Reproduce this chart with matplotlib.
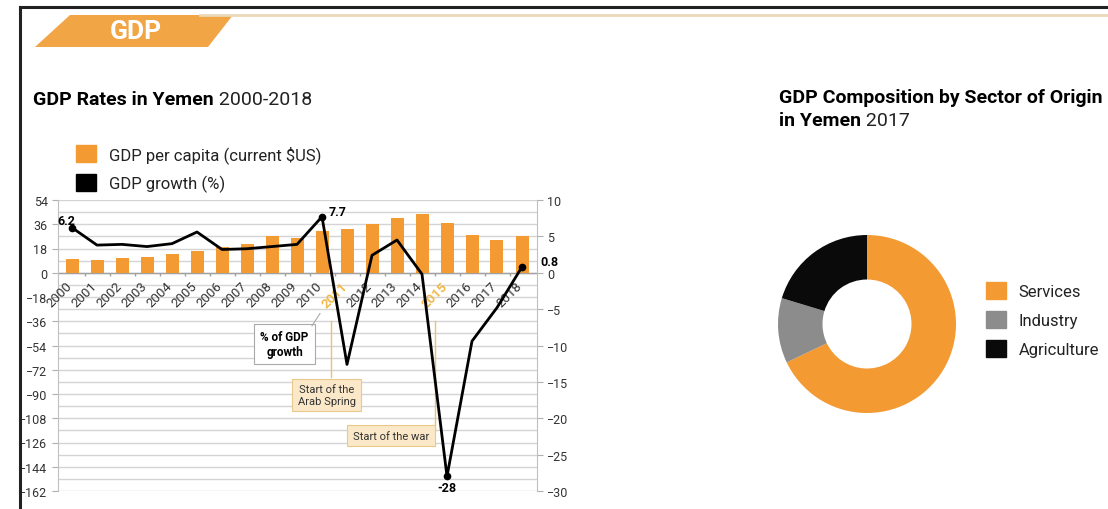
import matplotlib
matplotlib.use('Agg')
import matplotlib.pyplot as plt
from matplotlib.patches import Polygon, Patch
from matplotlib.lines import Line2D
import numpy as np

plt.rcParams['font.family'] = ['Roboto', 'DejaVu Sans']

# GDP per capita (left axis units) and annual GDP growth (%) for Yemen
years = list(range(2000, 2019))
gdp_per_capita = [10, 9.75, 10.75, 11.75, 13.75, 16.5, 18.75, 21.5, 27, 25.75,
                  30.75, 32.75, 36, 40.5, 43.25, 37, 27.75, 24.5, 27.5]
gdp_growth = [6.2, 3.8, 3.9, 3.6, 4.0, 5.6, 3.2, 3.3, 3.6, 3.9,
              7.7, -12.6, 2.4, 4.5, -0.2, -28.0, -9.4, -4.8, 0.8]
labelled_years = [2000, 2010, 2015, 2018]
highlight_years = [2011, 2015]

# GDP composition by sector, 2017 (%)
sectors = ['Services', 'Industry', 'Agriculture']
sector_share = [67.9, 11.8, 20.3]

ORANGE = '#F39A33'
GOLD = '#F2B84B'
W, H = 1108, 510


def fx(x):
    return x / W


def fy(y):
    return 1 - y / H


fig = plt.figure(figsize=(W / 100, H / 100), dpi=100)

# frame and header banner
fig.add_artist(Line2D([fx(20), 1], [fy(8), fy(8)], color='#222222', lw=2.2))
fig.add_artist(Line2D([fx(20), fx(20)], [fy(8), 0], color='#222222', lw=2.2))
fig.add_artist(Line2D([fx(200), 1], [fy(16), fy(16)], color='#E9D9B6', lw=2))
fig.add_artist(Polygon([(fx(35), fy(48)), (fx(70), fy(16)), (fx(233), fy(16)), (fx(208), fy(48))],
                       closed=True, transform=fig.transFigure, facecolor='#F2A544', edgecolor='none'))
fig.text(fx(136), fy(32), 'GDP', color='white', fontsize=19, fontweight='bold',
         ha='center', va='center')

# ---- bar + line chart
ax = fig.add_axes([fx(58), fy(492), fx(537 - 58), (492 - 201) / H])
ax2 = ax.twinx()
x = np.arange(len(years))

ax.set_ylim(-162, 54)
ax.set_yticks(np.arange(-162, 55, 18))
ax.set_yticks(np.arange(-162, 55, 9), minor=True)
ax.grid(True, which='both', axis='y', color='#d4d4d4', lw=1)
ax.set_axisbelow(True)
ax.axhline(0, color='#a0a0a0', lw=1, zorder=1)
ax.bar(x, gdp_per_capita, width=0.52, color=ORANGE, zorder=2)
ax.vlines(x[:-1] + 0.5, -2.2, 0, color='#a0a0a0', lw=1, zorder=1)
ax.set_xlim(-0.56, 18.6)
ax.set_xticks([])
ax.tick_params(axis='y', which='major', labelsize=9, labelcolor='#333333', color='#b0b0b0', length=4)
ax.tick_params(axis='y', which='minor', length=0)
for side in ['top', 'bottom', 'right']:
    ax.spines[side].set_visible(False)
ax.spines['left'].set_color('#c0c0c0')

for i, yr in enumerate(years):
    hl = yr in highlight_years
    ax.text(i - 0.5, -16, str(yr), rotation=45, ha='center', va='center',
            fontsize=9.5, color=GOLD if hl else '#333333',
            fontweight='bold' if hl else 'normal', zorder=3)

ax2.set_ylim(-30, 10)
ax2.set_yticks(np.arange(-30, 11, 5))
ax2.tick_params(axis='y', labelsize=9, labelcolor='#333333', color='#b0b0b0', length=4)
for side in ['top', 'bottom', 'left']:
    ax2.spines[side].set_visible(False)
ax2.spines['right'].set_color('#c0c0c0')
ax2.plot(x, gdp_growth, color='black', lw=2, zorder=4)

offsets = {2000: (-4, 5), 2010: (11, 4), 2015: (0, -8), 2018: (20, 4)}
for yr in labelled_years:
    i = years.index(yr)
    v = gdp_growth[i]
    ax2.plot(x[i], v, 'o', color='black', ms=4.5, zorder=5)
    ax2.annotate('{:g}'.format(v), (x[i], v), xytext=offsets[yr], textcoords='offset points',
                 ha='center', va='center', fontsize=9, fontweight='bold', zorder=5,
                 annotation_clip=False)

# callout boxes
ax2.text(8.5, -9.8, '% of GDP\ngrowth', ha='center', va='center', fontsize=8.5,
         fontweight='bold', linespacing=1.15, zorder=6,
         bbox=dict(boxstyle='square,pad=0.55', facecolor='white', edgecolor='#aaaaaa', lw=0.8))
ax2.plot([9.6, 9.92], [-7.3, -5.6], color='#aaaaaa', lw=0.8, zorder=6)

ax2.plot([10.36, 10.36], [-6.6, -14.3], color='#E6C27A', lw=1, zorder=3)
ax2.text(10.18, -16.8, 'Start of the\nArab Spring', ha='center', va='center', fontsize=8,
         color='#333333', linespacing=1.15, zorder=6,
         bbox=dict(boxstyle='square,pad=0.5', facecolor='#FBE8C8', edgecolor='#E9C98A', lw=0.8))
ax2.plot([14.52, 14.52], [-6.7, -21.6], color='#E6C27A', lw=1, zorder=3)
ax2.text(12.76, -22.4, 'Start of the war', ha='center', va='center', fontsize=8,
         color='#333333', zorder=6,
         bbox=dict(boxstyle='square,pad=0.5', facecolor='#FBE8C8', edgecolor='#E9C98A', lw=0.8))

# titles
t1 = fig.text(fx(33), fy(109), 'GDP Rates in Yemen', fontsize=14, fontweight='bold', va='bottom')
ax.annotate(' 2000-2018', xy=(1, 0), xycoords=t1, fontsize=14, va='bottom', color='#222222')

fig.legend([Patch(color=ORANGE), Patch(color='black')],
           ['GDP per capita (current $US)', 'GDP growth (%)'],
           loc='upper left', bbox_to_anchor=(fx(68), fy(138)), frameon=False, fontsize=12,
           handlelength=1.15, handleheight=1.15, handletextpad=0.8, labelspacing=0.65,
           borderpad=0, labelcolor='#222222')

# ---- donut chart
pax = fig.add_axes([fx(778), fy(414), fx(178), 178 / H])
pax.pie(sector_share, colors=[ORANGE, '#8C8C8C', '#0A0A0A'], startangle=90,
        counterclock=False, radius=1, wedgeprops=dict(width=0.5, edgecolor='none'))
pax.set_xlim(-1, 1)
pax.set_ylim(-1, 1)
pax.set_aspect('equal')

fig.text(fx(779), fy(107), 'GDP Composition by Sector of Origin', fontsize=14,
         fontweight='bold', va='bottom')
t2 = fig.text(fx(779), fy(130), 'in Yemen', fontsize=14, fontweight='bold', va='bottom')
ax.annotate(' 2017', xy=(1, 0), xycoords=t2, fontsize=14, va='bottom', color='#222222')

fig.legend([Patch(color=c) for c in [ORANGE, '#8C8C8C', '#0A0A0A']], sectors,
           loc='upper left', bbox_to_anchor=(fx(978), fy(275)), frameon=False, fontsize=12,
           handlelength=1.15, handleheight=1.15, handletextpad=0.8, labelspacing=0.72,
           borderpad=0, labelcolor='#222222')

fig.savefig('out.png', dpi=100)
